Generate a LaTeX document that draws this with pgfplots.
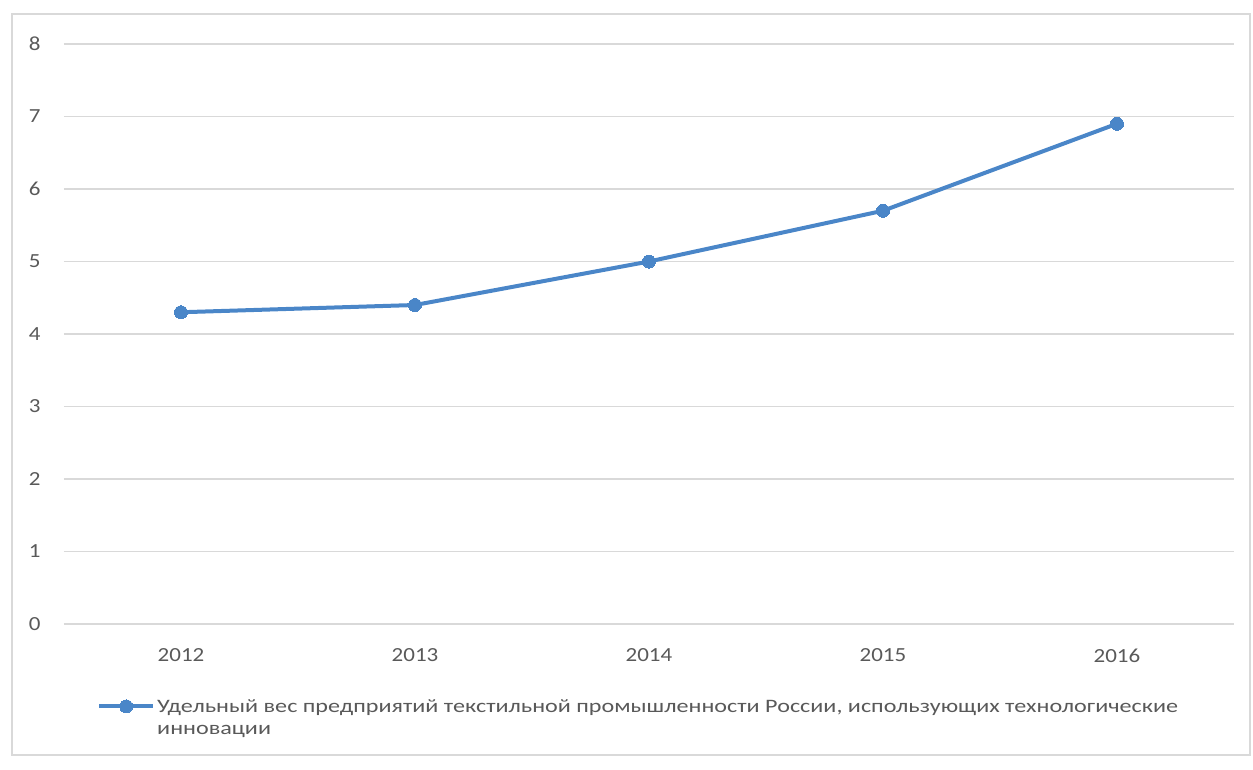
\documentclass[border=0pt]{standalone}
\usepackage{pgfplots}
\pgfplotsset{compat=1.18}
\usepackage{fontspec}
\setmainfont{Carlito}
\newfontfamily\tickfont[FakeStretch=1.15]{Carlito}
\newfontfamily\legfont[FakeStretch=1.27]{Carlito}
\definecolor{serblue}{HTML}{4A86C8}
\definecolor{gridgray}{HTML}{D9D9D9}
\definecolor{txtgray}{HTML}{595959}
\begin{document}
\begin{tikzpicture}[x=1pt,y=1pt]
\path[use as bounding box] (-64,-145) rectangle (1189,624);
\draw[gridgray, line width=1.5pt] (-52,-131) rectangle (1186,610);
\begin{axis}[at={(0,0)}, anchor=south west, scale only axis,
  width=1170pt, height=580pt,
  xmin=-0.5, xmax=4.5, ymin=0, ymax=8,
  xtick={0,1,2,3,4}, xticklabels={2012,2013,2014,2015,2016},
  ytick={0,1,...,8},
  axis line style={draw=none}, major tick length=0pt,
  ymajorgrids, grid style={gridgray, line width=1.2pt},
  tick label style={font=\tickfont\fontsize{20}{22}\selectfont, text=txtgray},
  /pgf/number format/assume math mode=true,
  yticklabel style={xshift=-20pt},
  xticklabel style={yshift=-21pt},
  legend cell align=left,
  legend image code/.code={\draw[mark repeat=2,mark phase=2,#1] plot coordinates {(0pt,11pt) (27pt,11pt) (54pt,11pt)};},
  legend style={at={(0,0)}, anchor=north west, xshift=30pt, yshift=-71pt, draw=none, fill=none,
    nodes={align=left, text=txtgray, font=\legfont\fontsize{19}{22}\selectfont, inner sep=2pt}},
]
\addplot[serblue, line width=4pt, mark=*, mark size=6.5pt, mark options={fill=serblue, draw=serblue, line width=0pt}]
  coordinates {(0,4.3) (1,4.4) (2,5.0) (3,5.7) (4,6.9)};
\addlegendentry{Удельный вес предприятий текстильной промышленности России, использующих технологические\\инновации}
\end{axis}
\end{tikzpicture}
\end{document}
